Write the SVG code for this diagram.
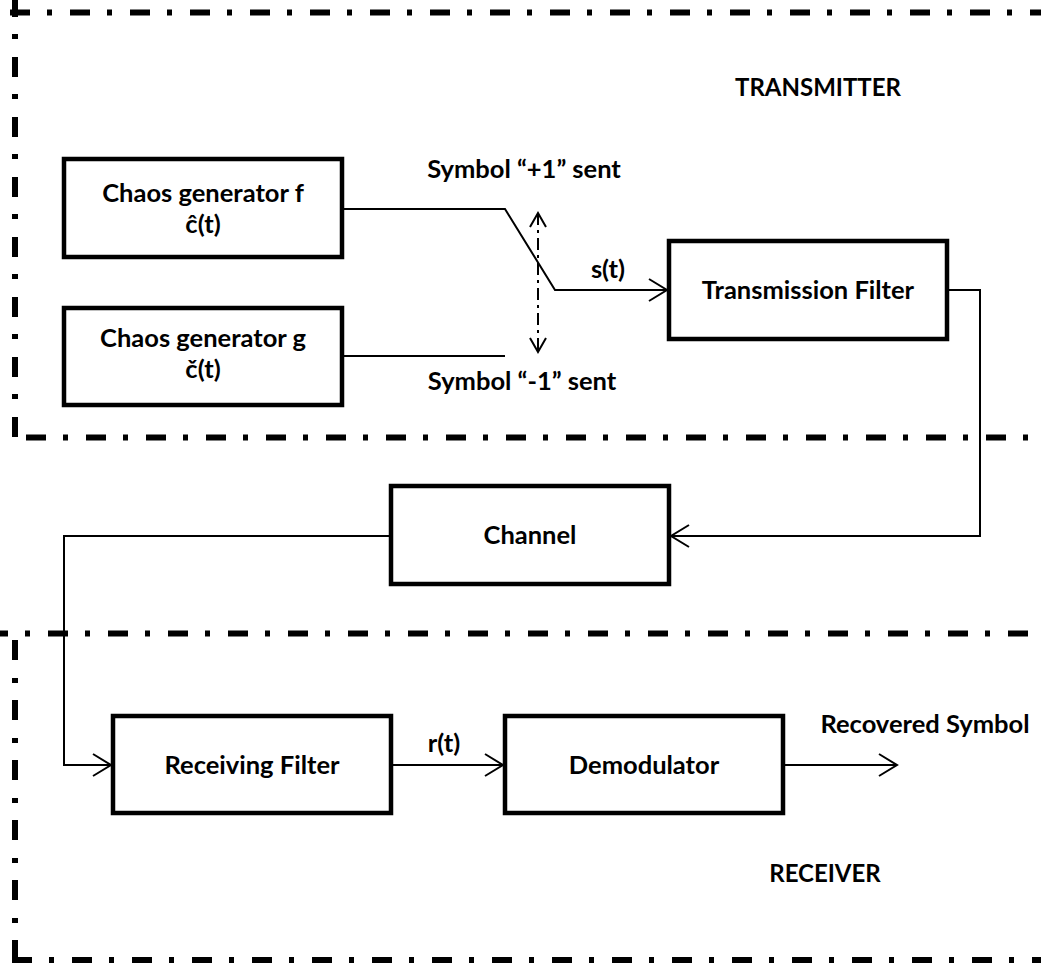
<svg xmlns="http://www.w3.org/2000/svg" width="1041" height="963" viewBox="0 0 1041 963">
<style>
.bound{fill:none;stroke:#000;stroke-width:6;stroke-dasharray:20 17 5 18;stroke-linecap:butt}
.box{fill:#fff;stroke:#000;stroke-width:4.5}
.wire{fill:none;stroke:#000;stroke-width:2}
.sw{fill:none;stroke:#000;stroke-width:2;stroke-dasharray:12 5 3 5}
text{font-family:Lato,"Liberation Sans",sans-serif;font-weight:700;font-size:25.5px;fill:#000}
.caps{font-size:24px}
.c{text-anchor:middle}
</style>
<defs>
<marker id="arr" markerUnits="userSpaceOnUse" viewBox="-20 -13 24 26" markerWidth="24" markerHeight="26" refX="0" refY="0" orient="auto">
<path d="M-18,-11 L0,0 L-18,11" fill="none" stroke="#000" stroke-width="2" stroke-dasharray="none"/>
</marker>
<marker id="arr2" markerUnits="userSpaceOnUse" viewBox="-16 -10 20 20" markerWidth="20" markerHeight="20" refX="0" refY="0" orient="auto-start-reverse">
<path d="M-14,-8 L0,0 L-14,8" fill="none" stroke="#000" stroke-width="2" stroke-dasharray="none"/>
</marker>
</defs>
<g id="transmitter-boundary">
<path class="bound" d="M10,12.5 H1045"/>
<path class="bound" d="M15,-3 V437"/>
<path class="bound" d="M26,437.5 H1045"/>
<text x="818" y="96" class="c caps">TRANSMITTER</text>
</g>
<g id="receiver-boundary">
<path class="bound" d="M-12,633.5 H1045"/>
<path class="bound" d="M15,640 V960" style="stroke-dasharray:20 18 5 17"/>
<path class="bound" d="M12,960 H1045"/>
<text x="825" y="882" class="c caps">RECEIVER</text>
</g>
<g id="connectors">
<path class="wire" d="M342,209 H505 L555,290 H667" marker-end="url(#arr)"/>
<path class="wire" d="M342,356 H505"/>
<path class="sw" d="M538,213 V352" marker-start="url(#arr2)" marker-end="url(#arr2)"/>
<path class="wire" d="M947,290 H980 V536 H671" marker-end="url(#arr)"/>
<path class="wire" d="M391,536 H64 V765 H111" marker-end="url(#arr)"/>
<path class="wire" d="M391,765 H503" marker-end="url(#arr)"/>
<path class="wire" d="M783,765 H897" marker-end="url(#arr)"/>
<text x="524" y="178" class="c">Symbol “+1” sent</text>
<text x="522" y="390" class="c">Symbol “-1” sent</text>
<text x="608" y="278" class="c">s(t)</text>
<text x="444" y="752" class="c">r(t)</text>
<text x="925" y="733" class="c">Recovered Symbol</text>
</g>
<g id="chaos-f">
<rect class="box" x="64" y="159" width="278" height="98"/>
<text x="203" y="202" class="c">Chaos generator f</text>
<text x="203" y="233" class="c">ĉ(t)</text>
</g>
<g id="chaos-g">
<rect class="box" x="64" y="308" width="278" height="97"/>
<text x="203" y="347" class="c">Chaos generator g</text>
<text x="203" y="378" class="c">č(t)</text>
</g>
<g id="transmission-filter">
<rect class="box" x="669" y="241" width="278" height="98"/>
<text x="808" y="299" class="c">Transmission Filter</text>
</g>
<g id="channel">
<rect class="box" x="391" y="486" width="278" height="98"/>
<text x="530" y="544" class="c">Channel</text>
</g>
<g id="receiving-filter">
<rect class="box" x="113" y="716" width="278" height="97"/>
<text x="252" y="774" class="c">Receiving Filter</text>
</g>
<g id="demodulator">
<rect class="box" x="505" y="716" width="278" height="97"/>
<text x="644" y="774" class="c">Demodulator</text>
</g>
</svg>
